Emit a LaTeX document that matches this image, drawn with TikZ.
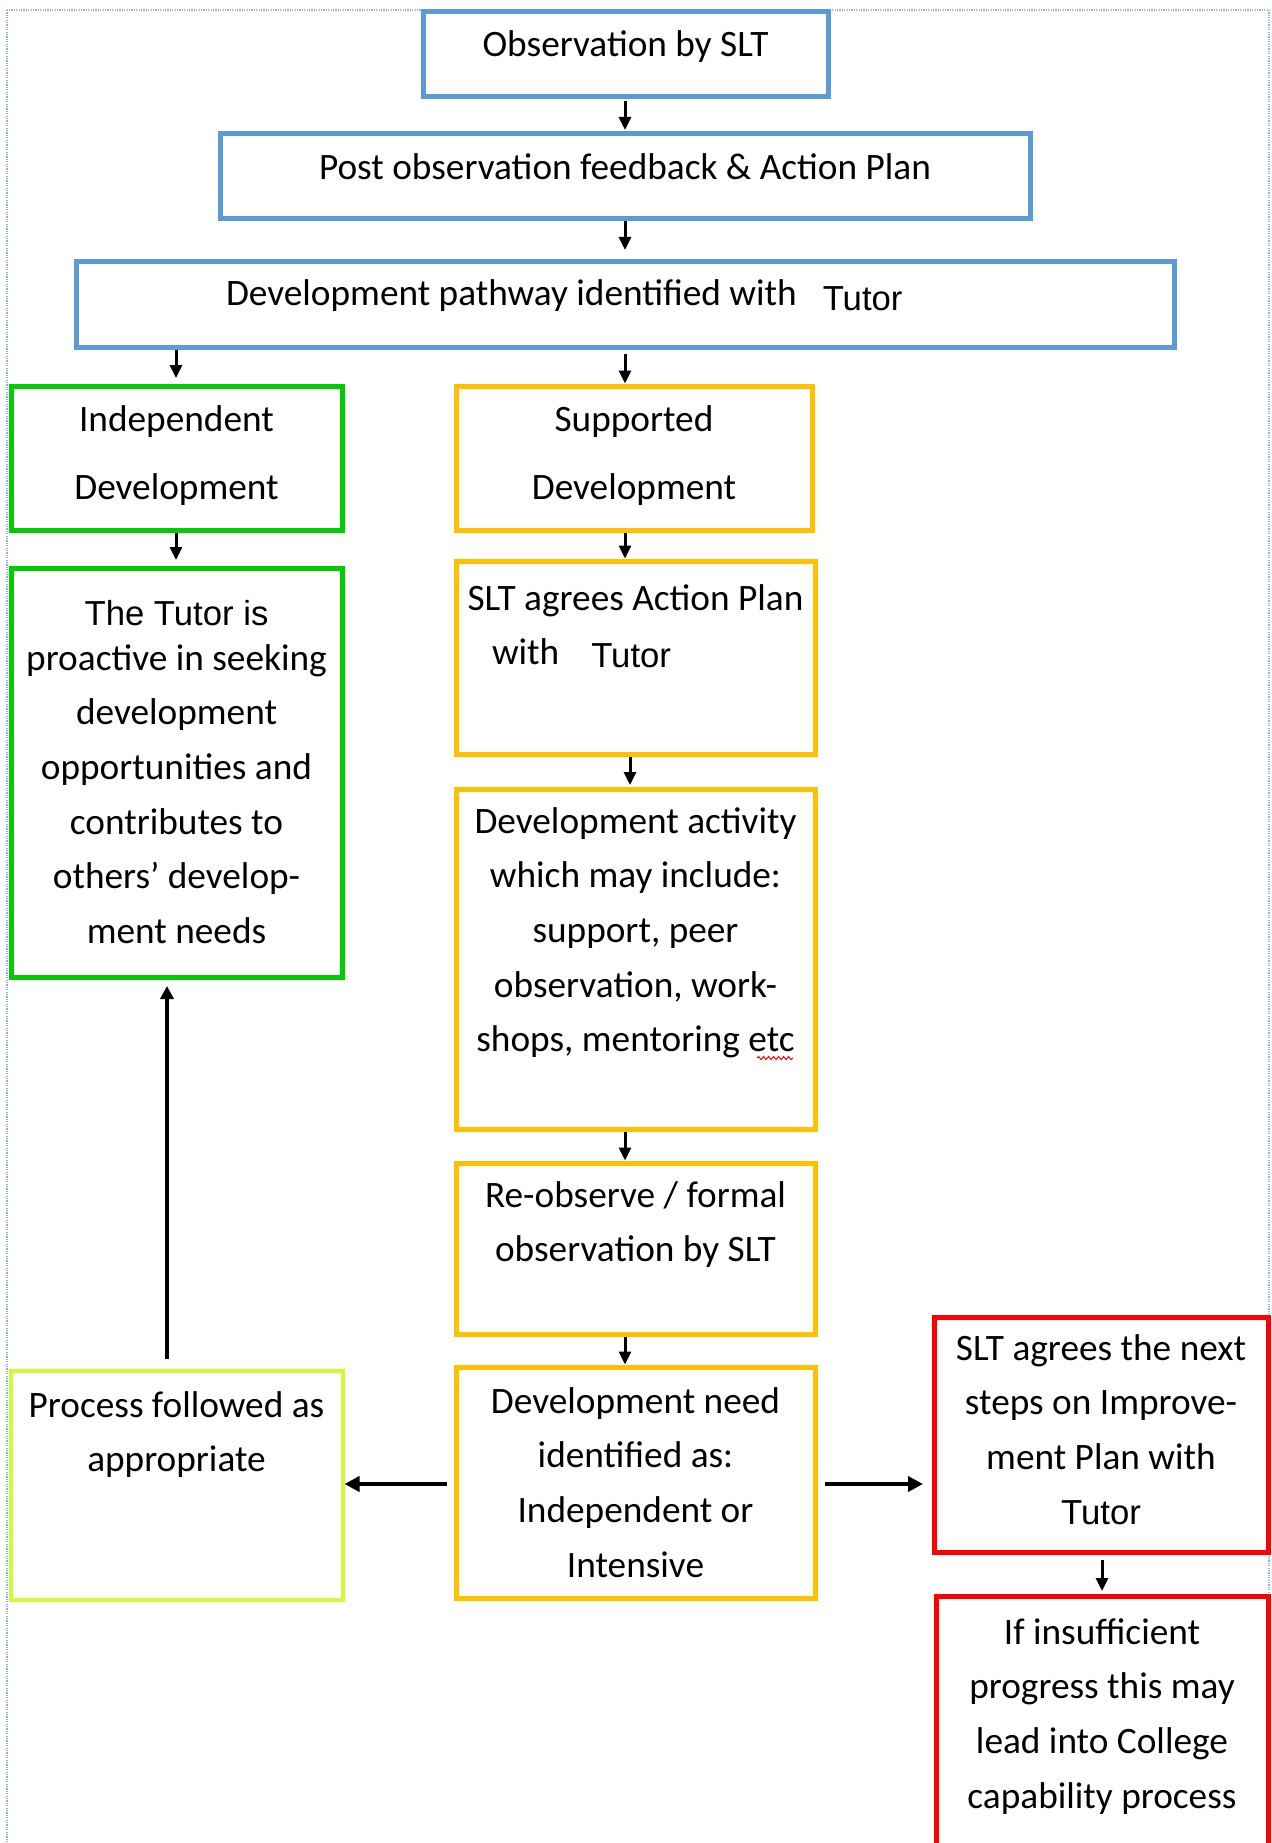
\documentclass[tikz,border=0pt]{standalone}
\usepackage{fontspec}
\newfontfamily\calib{Carlito}
\newfontfamily\arl{Liberation Sans}
\usetikzlibrary{arrows.meta,decorations.pathmorphing}
\definecolor{cblue}{HTML}{5B9BD5}
\definecolor{cgreen}{HTML}{00CC00}
\definecolor{corange}{HTML}{FFC000}
\definecolor{clime}{HTML}{CCFF33}
\definecolor{cred}{HTML}{FF0000}
\definecolor{cframe}{HTML}{8EB4E3}
\newcommand\bt[4]{\parbox[c][#2pt][t]{#1pt}{\centering\vspace*{#3pt}\rule{0pt}{32pt}#4\par}}
\newcommand\tut{{\arl\fontsize{34.7}{54.7}\selectfont Tutor}}
\begin{document}
\begin{tikzpicture}[x=1pt,y=-1pt,
  bx/.style={draw, line width=5pt, inner sep=0pt, text=black,
    font=\calib\fontsize{37.3}{54.7}\selectfont},
  arr/.style={-{Triangle[length=13pt,width=12pt]}, line width=3pt},
  arrm/.style={-{Triangle[length=13pt,width=13pt]}, line width=3.8pt},
  arrt/.style={-{Triangle[length=15pt,width=15pt]}, line width=4.5pt}]
\useasboundingbox (0,0) rectangle (1271,1843);
\draw[cframe, line width=1.2pt, dash pattern=on 1.2pt off 1.2pt] (7,10) rectangle (1269,1860);

\node[bx, draw=cblue] (obs) at (625.5,54.5) {\bt{405}{85}{13}{Observation by SLT}};
\node[bx, draw=cblue] (post) at (625,176.5) {\bt{810}{85}{14}{Post observation feedback \& Action Plan}};
\node[bx, draw=cblue] (path) at (625,304.5) {\bt{1098}{85}{12}{\raggedright\hspace*{150pt}Development pathway identified with\hspace{26pt}\raisebox{-5pt}{\tut}}};
\node[bx, draw=cgreen] (indep) at (176.5,458) {\bt{331}{144}{13}{Independent\\[13.3pt]Development}};
\node[bx, draw=corange] (supp) at (634,458) {\bt{356}{144}{13}{Supported\\[13.3pt]Development}};
\node[bx, draw=cgreen] (tutor) at (176.5,772.5) {\bt{331}{409}{25}{{\arl\fontsize{34.7}{54.7}\selectfont The Tutor is}\\[-9.7pt]proactive in seeking\\development\\opportunities and\\contributes to\\others’ develop-\\ment needs}};
\node[bx, draw=corange] (slta) at (635.5,657.5) {\bt{359}{193}{17}{SLT agrees Action Plan\par\raggedright\hspace*{36pt}with\hspace{32pt}\raisebox{-3pt}{\tut}}};
\node[bx, draw=corange] (act) at (635.5,959) {\bt{359}{340}{12}{Development activity\\which may include:\\support, peer\\observation, work-\\shops, mentoring etc}};
\node[bx, draw=corange] (reobs) at (635.5,1248.5) {\bt{359}{171}{12}{Re-observe / formal\\observation by SLT}};
\node[bx, draw=corange] (need) at (635.5,1482.5) {\bt{359}{231}{14}{Development need\\identified as:\\Independent or\\Intensive}};
\node[bx, draw=clime, line width=4pt] (proc) at (176.5,1485) {\bt{332}{229}{14.5}{Process followed as\\appropriate}};
\node[bx, draw=cred] (nexts) at (1101,1434.5) {\bt{334}{235}{11}{SLT agrees the next\\steps on Improve-\\ment Plan with\\{\tut}}};
\node[bx, draw=cred] (insuf) at (1102,1748) {\bt{332}{304}{16}{If insufficient\\progress this may\\lead into College\\capability process}};

\draw[cred, line width=1pt, decorate, decoration={snake, amplitude=1.5pt, segment length=5pt}] (757,1058) -- (793,1058);

\coordinate (c625) at (625,0);
\coordinate (c176) at (176,0);
\coordinate (c630) at (630,0);
\coordinate (c1102) at (1102,0);
\coordinate (c167) at (167,0);
\coordinate (hy) at (0,1484);

\draw[arr, shorten <=1.5pt, shorten >=1.5pt] (obs.south -| c625) -- (post.north -| c625);
\draw[arr, shorten >=9.5pt] (post.south -| c625) -- (path.north -| c625);
\draw[arr, shorten >=5.5pt] (path.south -| c176) -- (indep.north -| c176);
\draw[arr, shorten <=4.5pt] (path.south -| c625) -- (supp.north -| c625);
\draw[arr, shorten >=5.5pt] (indep.south -| c176) -- (tutor.north -| c176);
\draw[arr] (supp.south -| c625) -- (slta.north -| c625);
\draw[arr, shorten >=1.5pt] (slta.south -| c630) -- (act.north -| c630);
\draw[arr] (act.south -| c625) -- (reobs.north -| c625);
\draw[arr] (reobs.south -| c625) -- (need.north -| c625);
\draw[arr, shorten <=5.5pt, shorten >=2.5pt] (nexts.south -| c1102) -- (insuf.north -| c1102);
\draw[arrt, shorten <=7pt] (need.west |- hy) -- (proc.east |- hy);
\draw[arrt, shorten <=7.5pt, shorten >=8.5pt] (need.east |- hy) -- (nexts.west |- hy);
\draw[arrm, shorten <=10pt, shorten >=6.5pt] (proc.north -| c167) -- (tutor.south -| c167);
\end{tikzpicture}
\end{document}
